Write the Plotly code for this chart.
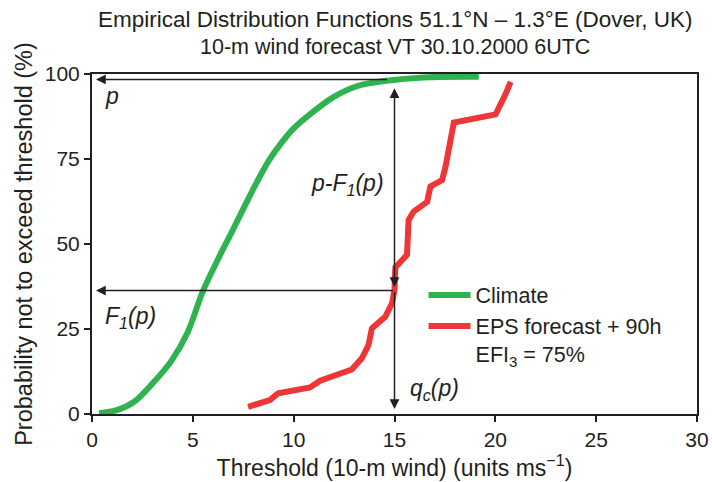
import plotly.graph_objects as go

# Climate empirical distribution (threshold in m/s, probability %)
climate_x = [0.35, 1.26, 2.09, 3.08, 3.91, 4.74, 5.49, 6.23, 6.98, 7.6, 8.2, 8.8, 9.4, 10.0, 10.65, 11.97, 13.13, 14.6, 16.45, 19.18]
climate_y = [0.2, 1.2, 3.6, 9.5, 15.4, 24.0, 36.0, 45.3, 54.1, 61.5, 68.5, 74.8, 79.8, 84.0, 87.4, 93.2, 96.4, 98.0, 99.0, 99.2]

# EPS forecast + 90h empirical distribution
eps_x = [7.74, 8.82, 9.23, 10.81, 11.31, 12.88, 13.38, 13.71, 13.88, 14.54, 14.88, 15.0, 15.04, 15.62, 15.7,
         15.95, 16.62, 16.78, 17.36, 17.53, 17.94, 20.01, 20.5, 20.76]
eps_y = [2.1, 4.1, 6.1, 7.8, 9.8, 13.1, 16.4, 20.3, 25.2, 28.6, 32.6, 36.5, 43.1, 46.8, 57.1,
         59.5, 62.4, 66.9, 68.8, 72.7, 85.7, 88.1, 94.0, 97.7]

x_ticks = [0, 5, 10, 15, 20, 25, 30]
y_ticks = [0, 25, 50, 75, 100]

# illustration values
p_val = 98.4
f1_val = 36.3
qc_val = 15.0

GREEN = "#2FB34F"
RED = "#EE3636"
INK = "#231F20"
FONT = "Liberation Sans, Arial, sans-serif"

fig = go.Figure()
fig.add_trace(go.Scatter(x=climate_x, y=climate_y, mode="lines", name="Climate",
                         line=dict(color=GREEN, width=6, shape="spline", smoothing=1.0)))
fig.add_trace(go.Scatter(x=eps_x, y=eps_y, mode="lines",
                         name="EPS forecast + 90h<br>EFI<sub>3</sub> = 75%",
                         line=dict(color=RED, width=6)))

arrow_common = dict(showarrow=True, arrowcolor=INK, arrowwidth=1.5, arrowhead=2, arrowsize=1.3,
                    axref="x", ayref="y", xref="x", yref="y", text="")
annotations = [
    dict(x=0.2, y=p_val, ax=14.7, ay=p_val, **arrow_common),
    dict(x=0.2, y=f1_val, ax=qc_val, ay=f1_val, **arrow_common),
    dict(x=qc_val, y=95.8, ax=qc_val, ay=f1_val + 0.6, arrowside="end+start", **arrow_common),
    dict(x=qc_val, y=1.5, ax=qc_val, ay=f1_val, **arrow_common),
]
text_font = dict(family=FONT, size=23, color=INK)
annotations += [
    dict(x=0.55, y=93.5, text="<i>p</i>", showarrow=False, xanchor="left", yanchor="middle", font=text_font),
    dict(x=14.6, y=67.5, text="<i>p-F<sub>1</sub>(p)</i>", showarrow=False, xanchor="right", yanchor="middle", font=text_font),
    dict(x=0.55, y=28.5, text="<i>F<sub>1</sub>(p)</i>", showarrow=False, xanchor="left", yanchor="middle", font=text_font),
    dict(x=15.65, y=7.2, text="<i>q<sub>c</sub>(p)</i>", showarrow=False, xanchor="left", yanchor="middle", font=text_font),
    # two-line title
    dict(x=0.5, y=1.159, xref="paper", yref="paper", xanchor="center", yanchor="middle", showarrow=False,
         text="Empirical Distribution Functions 51.1°N – 1.3°E (Dover, UK)",
         font=dict(family=FONT, size=22.5, color=INK)),
    dict(x=0.5, y=1.079, xref="paper", yref="paper", xanchor="center", yanchor="middle", showarrow=False,
         text="10-m wind forecast VT 30.10.2000 6UTC",
         font=dict(family=FONT, size=21.5, color=INK)),
]

fig.update_layout(
    width=712, height=482,
    margin=dict(l=92, r=15, t=74, b=68),
    paper_bgcolor="white", plot_bgcolor="white",
    font=dict(family=FONT, size=21, color=INK),
    showlegend=True,
    legend=dict(x=0.548, y=0.41, xanchor="left", yanchor="top", bgcolor="rgba(0,0,0,0)",
                font=dict(family=FONT, size=21.5, color=INK), valign="top",
                itemwidth=42, tracegroupgap=0),
    annotations=annotations,
)
fig.update_xaxes(range=[0, 30], tickvals=x_ticks, ticks="outside", ticklen=6, tickwidth=1.5,
                 tickcolor=INK, showline=True, linecolor=INK, linewidth=2, mirror=True,
                 showgrid=False, zeroline=False, tickfont=dict(size=21), automargin=False,
                 title=dict(text="Threshold (10-m wind) (units ms<sup>−1</sup>)", font=dict(size=23), standoff=2))
fig.update_yaxes(range=[0, 100], tickvals=y_ticks, ticks="outside", ticklen=6, tickwidth=1.5,
                 tickcolor=INK, showline=True, linecolor=INK, linewidth=2, mirror=True,
                 showgrid=False, zeroline=False, tickfont=dict(size=21), automargin=False,
                 title=dict(text="Probability not to exceed threshold (%)", font=dict(size=23.5), standoff=6))

fig.write_html("out.html")
